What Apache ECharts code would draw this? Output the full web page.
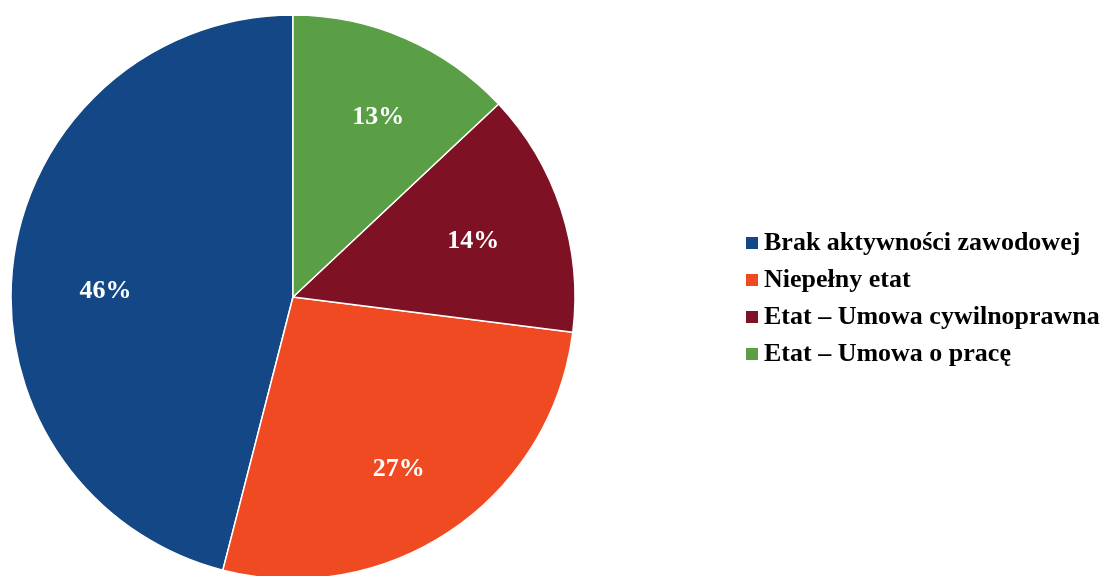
<!DOCTYPE html>
<html><head><meta charset="utf-8">
<script src="https://cdn.jsdelivr.net/npm/echarts@6/dist/echarts.min.js"></script>
<style>html,body{margin:0;padding:0;background:#fff}#c{width:1100px;height:576px}</style>
</head><body><div id="c"></div>
<script>
const categories = ['Brak aktywności zawodowej', 'Niepełny etat', 'Etat – Umowa cywilnoprawna', 'Etat – Umowa o pracę'];
const values = [46, 27, 14, 13];
const colors = ['#144785', '#F04A23', '#7E1224', '#5A9E46'];
const labelOffsets = [[8, 19], [-5, 9], [-7, 5], [7, 1]];

const chart = echarts.init(document.getElementById('c'));
const font = '"Liberation Serif", "Times New Roman", serif';
chart.setOption({
  animation: false,
  legend: {
    orient: 'vertical', left: 739, top: 225,
    icon: 'rect', itemWidth: 14, itemHeight: 14, itemGap: 11,
    textStyle: { fontFamily: font, fontWeight: 'bold', fontSize: 26, color: '#000' },
    data: categories
  },
  series: [
    {
      type: 'pie', center: [293, 297], radius: [0, 282], startAngle: 90, clockwise: false,
      itemStyle: { borderColor: '#fff', borderWidth: 1.5 },
      label: { show: false }, labelLine: { show: false },
      data: categories.map((n, i) => ({ name: n, value: values[i], itemStyle: { color: colors[i] } }))
    },
    {
      type: 'pie', center: [293, 297], radius: [0, 388], startAngle: 90, clockwise: false,
      silent: true, z: 5,
      itemStyle: { color: 'rgba(0,0,0,0)', borderWidth: 0 },
      label: { show: true, position: 'inside', formatter: '{c}%', color: '#fff', fontFamily: font, fontWeight: 'bold', fontSize: 26, textBorderWidth: 0 },
      labelLine: { show: false },
      data: categories.map((n, i) => ({ name: n, value: values[i], itemStyle: { color: 'rgba(0,0,0,0)' }, label: { offset: labelOffsets[i] } }))
    }
  ]
});
</script></body></html>
